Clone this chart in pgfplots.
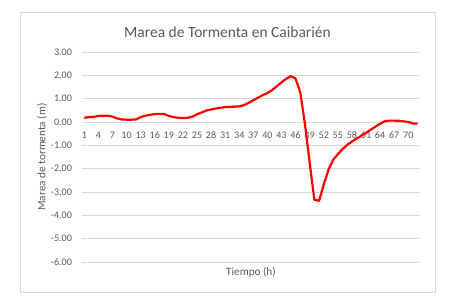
\documentclass[border=0pt]{standalone}
\usepackage{pgfplots}
\pgfplotsset{compat=1.18}
\usetikzlibrary{calc}
\usepackage{fontspec}
\setmainfont{Carlito}
\definecolor{txt}{RGB}{89,89,89}
\definecolor{gridc}{RGB}{217,217,217}
\begin{document}
\begin{tikzpicture}
\begin{axis}[
  scale only axis, width=338pt, height=210pt,
  xmin=0.5, xmax=72.5, ymin=-6, ymax=3,
  enlargelimits=false,
  axis line style={draw=none},
  major tick length=0pt,
  xtick={1,4,...,70},
  ytick={-6,-5,...,3},
  ymajorgrids, grid style={gridc, line width=0.8pt},
  /pgf/number format/assume math mode=true,
  yticklabel={\pgfmathprintnumber[fixed,fixed zerofill,precision=2]{\tick}},
  ticklabel style={txt, font=\fontsize{10.1}{12}\selectfont},
  xticklabel style={anchor=center, yshift=127pt},
  yticklabel style={anchor=east, xshift=-6.5pt},
  xlabel={Tiempo (h)}, ylabel={Marea de tormenta (m)},
  label style={txt, font=\fontsize{11.2}{13}\selectfont},
  xlabel style={at={(axis description cs:0.5,0)}, anchor=center, yshift=-10pt},
  ylabel style={at={(axis description cs:0,0.5)}, anchor=center, yshift=40pt},
  clip=false,
]
\coordinate (SW) at (rel axis cs:0,0);
\addplot[red, line width=2.2pt, line join=round] table {
x y
1 0.18
2 0.21
3 0.22
4 0.26
5 0.27
6 0.27
7 0.23
8 0.15
9 0.11
10 0.10
11 0.10
12 0.11
13 0.21
14 0.27
15 0.31
16 0.34
17 0.35
18 0.34
19 0.26
20 0.21
21 0.18
22 0.17
23 0.18
24 0.23
25 0.33
26 0.41
27 0.49
28 0.54
29 0.58
30 0.61
31 0.64
32 0.65
33 0.66
34 0.67
35 0.72
36 0.82
37 0.93
38 1.04
39 1.15
40 1.24
41 1.37
42 1.53
43 1.70
44 1.85
45 1.97
46 1.86
47 1.27
48 -0.10
49 -1.75
50 -3.33
51 -3.38
52 -2.68
53 -2.05
54 -1.62
55 -1.38
56 -1.16
57 -0.98
58 -0.84
59 -0.71
60 -0.59
61 -0.47
62 -0.33
63 -0.20
64 -0.07
65 0.03
66 0.06
67 0.06
68 0.05
69 0.03
70 0.00
71 -0.06
72 -0.07
};
\end{axis}
\pgfresetboundingbox
\begin{scope}[shift={($(SW)+(-82pt,-41pt)$)}, x=1pt, y=1pt]
\path[use as bounding box] (0,0) rectangle (450,303);
\draw[gridc, line width=0.8pt] (20,11) rectangle (435,291);
\node[txt, font=\fontsize{15.5}{18}\selectfont] at (227.5,271) {Marea de Tormenta en Caibarién};
\end{scope}
\end{tikzpicture}
\end{document}
